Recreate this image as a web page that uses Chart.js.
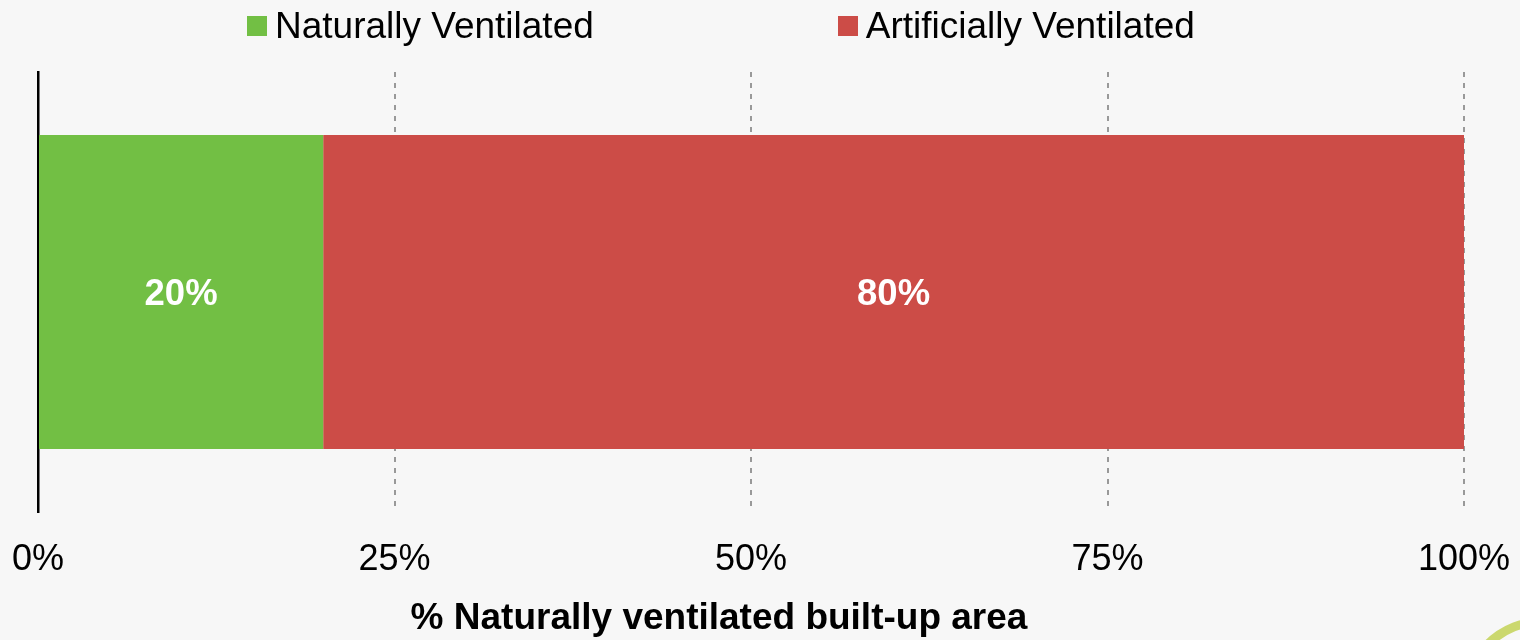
<!DOCTYPE html>
<html>
<head>
<meta charset="utf-8">
<script src="https://cdn.jsdelivr.net/npm/chart.js@4/dist/chart.umd.min.js"></script>
<style>
  html, body { margin: 0; padding: 0; background: #f7f7f7; }
  #wrap { position: relative; width: 1520px; height: 640px; overflow: hidden; }
  #legend { position: absolute; left: 247px; top: 1px; display: flex; gap: 244px;
            font-family: "Liberation Sans", Arial, sans-serif; font-size: 37px; line-height: 50px; color: #000; }
  .item { display: flex; align-items: flex-start; }
  .box { width: 20px; height: 20px; margin-top: 15px; margin-right: 8px; }
  #ring { position: absolute; left: 1460px; top: 617px; width: 166px; height: 166px;
          border-radius: 50%; border: 9px solid #cbd86e; box-sizing: border-box; }
</style>
</head>
<body>
<div id="wrap">
  <canvas id="chart" width="1520" height="640"></canvas>
  <div id="legend"></div>
  <div id="ring"></div>
</div>
<script>
// dados do gráfico
const categories = [''];
const seriesNames = ['Naturally Ventilated', 'Artificially Ventilated'];
const naturalValues = [20];
const artificialValues = [80];
const seriesColors = ['#72bf44', '#cc4c47'];
const tickValues = [0, 25, 50, 75, 100];
const axisTitle = '% Naturally ventilated built-up area';

const FONT = '"Liberation Sans", Arial, sans-serif';

// legenda em HTML
const legendEl = document.getElementById('legend');
seriesNames.forEach(function(name, i) {
  const item = document.createElement('div');
  item.className = 'item';
  const box = document.createElement('span');
  box.className = 'box';
  box.style.background = seriesColors[i];
  const txt = document.createElement('span');
  txt.textContent = name;
  item.appendChild(box);
  item.appendChild(txt);
  legendEl.appendChild(item);
});

// rótulos brancos no meio de cada barra + título do eixo (um pouco à esquerda do centro)
const barLabels = {
  id: 'barLabels',
  afterDatasetsDraw(chart) {
    const ctx = chart.ctx;
    ctx.save();
    ctx.fillStyle = '#ffffff';
    ctx.font = 'bold 36.5px ' + FONT;
    ctx.textAlign = 'center';
    ctx.textBaseline = 'middle';
    chart.data.datasets.forEach(function(ds, i) {
      chart.getDatasetMeta(i).data.forEach(function(bar, j) {
        const cx = (bar.x + bar.base) / 2;
        ctx.fillText(ds.data[j] + '%', cx, bar.y + 3);
      });
    });
    ctx.restore();
  },
  afterDraw(chart) {
    const ctx = chart.ctx;
    const area = chart.chartArea;
    ctx.save();
    ctx.fillStyle = '#000';
    ctx.font = 'bold 37px ' + FONT;
    ctx.textAlign = 'center';
    ctx.textBaseline = 'middle';
    ctx.fillText(axisTitle, (area.left + area.right) / 2 - 32, chart.scales.x.bottom - 21);
    ctx.restore();
  }
};

const ctx = document.getElementById('chart').getContext('2d');
new Chart(ctx, {
  type: 'bar',
  data: {
    labels: categories,
    datasets: [{
      label: seriesNames[0],
      data: naturalValues,
      backgroundColor: seriesColors[0],
      borderWidth: 0
    }, {
      label: seriesNames[1],
      data: artificialValues,
      backgroundColor: seriesColors[1],
      borderWidth: 0
    }]
  },
  options: {
    indexAxis: 'y',
    responsive: false,
    animation: false,
    barPercentage: 0.714,
    categoryPercentage: 1,
    layout: { padding: { left: 38, right: 56, top: 72, bottom: 0 } },
    plugins: {
      legend: { display: false },
      tooltip: { enabled: false }
    },
    scales: {
      x: {
        stacked: true,
        min: 0,
        max: 100,
        afterBuildTicks(axis) {
          axis.ticks = tickValues.map(v => ({ value: v }));
        },
        afterFit(axis) {
          axis.paddingLeft = 0;
          axis.paddingRight = 0;
          axis.height = 128;
        },
        ticks: {
          callback: v => v + '%',
          color: '#000',
          font: { family: FONT, size: 36 },
          padding: 26,
          maxRotation: 0
        },
        grid: {
          drawTicks: false,
          color: ctx => ctx.tick && ctx.tick.value === 0 ? 'rgba(0,0,0,0)' : '#999999',
          lineWidth: 2
        },
        border: { display: false, dash: [5, 6] },
        title: { display: false }
      },
      y: {
        stacked: true,
        ticks: { display: false },
        grid: { display: false, drawTicks: false },
        border: { display: true, color: '#000', width: 2.5 },
        afterFit(axis) { axis.width = 0; }
      }
    }
  },
  plugins: [barLabels]
});
</script>
</body>
</html>
